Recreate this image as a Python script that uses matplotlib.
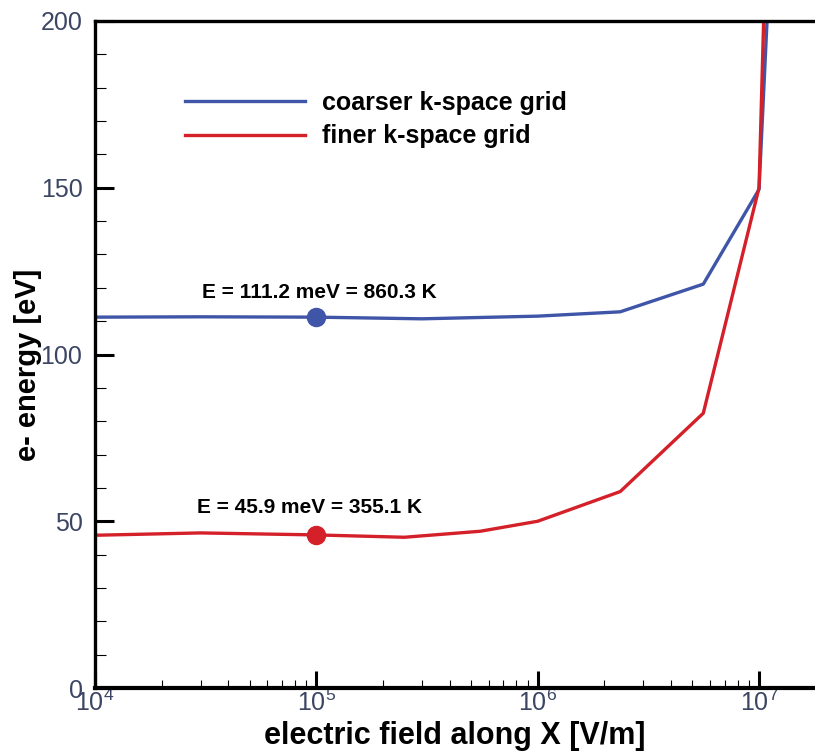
import matplotlib
matplotlib.use("Agg")
import matplotlib.pyplot as plt

plt.rcParams['font.family'] = ['Liberation Sans', 'DejaVu Sans']
plt.rcParams['mathtext.fontset'] = 'custom'
plt.rcParams['mathtext.rm'] = 'Liberation Sans'
plt.rcParams['mathtext.it'] = 'Liberation Sans:italic'
plt.rcParams['mathtext.bf'] = 'Liberation Sans:bold'

# data
field = [1e4, 3e4, 1e5, 3e5, 1e6, 2.36e6, 5.6e6, 1e7, 1.2e7]
coarse = [111.2, 111.3, 111.2, 110.7, 111.5, 112.8, 121.1, 149.5, 260]

field_fine = [1e4, 3e4, 1e5, 2.5e5, 5.5e5, 1e6, 2.36e6, 5.6e6, 1e7, 1.2e7]
fine = [45.8, 46.5, 45.9, 45.2, 47.0, 50.0, 58.9, 82.4, 150.0, 340]

marker_x = 1e5
coarse_mark = 111.2
fine_mark = 45.9
coarse_txt = "E = 111.2 meV = 860.3 K"
fine_txt = "E = 45.9 meV = 355.1 K"

blue = '#3f55a8'
red = '#d42029'
tick_col = '#3c4664'

fig = plt.figure(figsize=(8.15, 7.51), dpi=100)
ax = fig.add_axes([95 / 815, 1 - 688 / 751, 1 - 95 / 815, (688 - 21) / 751])

ax.plot(field, coarse, color=blue, lw=2.4, label="coarser k-space grid")
ax.plot(field_fine, fine, color=red, lw=2.4, label="finer k-space grid")
ax.plot([marker_x], [coarse_mark], 'o', color=blue, ms=13)
ax.plot([marker_x], [fine_mark], 'o', color=red, ms=13)

ax.annotate(coarse_txt, (marker_x, coarse_mark), xytext=(2, 18), textcoords='offset points',
            ha='center', va='center', fontsize=15, fontweight='bold')
ax.annotate(fine_txt, (marker_x, fine_mark), xytext=(-5, 20), textcoords='offset points',
            ha='center', va='center', fontsize=15, fontweight='bold')

ax.set_xscale('log')
ax.set_xlim(1e4, 1.79e7)
ax.set_ylim(0, 200)
ax.set_yticks([0, 50, 100, 150, 200])
ax.set_yticks(range(0, 201, 10), minor=True)

ax.spines['left'].set_linewidth(2.4)
ax.spines['top'].set_linewidth(2.4)
ax.spines['bottom'].set_linewidth(3)
ax.spines['right'].set_visible(False)

ax.tick_params(axis='y', which='major', direction='in', length=14, width=2.2,
               labelsize=18, labelcolor=tick_col, pad=9)
ax.tick_params(axis='y', which='minor', direction='in', length=8, width=0.8)
ax.tick_params(axis='x', which='major', direction='in', length=12, width=2.2,
               labelsize=18, labelcolor=tick_col, pad=1)
ax.tick_params(axis='x', which='minor', direction='in', length=6, width=0.8)

ax.set_xlabel("electric field along X [V/m]", fontsize=22, fontweight='bold', labelpad=4)
ax.set_ylabel("e- energy [eV]", fontsize=21, fontweight='bold')
ax.yaxis.set_label_coords(-0.074, 0.484)

ax.legend(loc='upper left', bbox_to_anchor=(185 / 815, 1 - 91 / 751), bbox_transform=fig.transFigure,
          frameon=False, borderpad=0, borderaxespad=0, handlelength=4.8, handletextpad=0.7,
          labelspacing=0.38, prop={'size': 18, 'weight': 'bold'})

fig.savefig("out.png", dpi=100)
